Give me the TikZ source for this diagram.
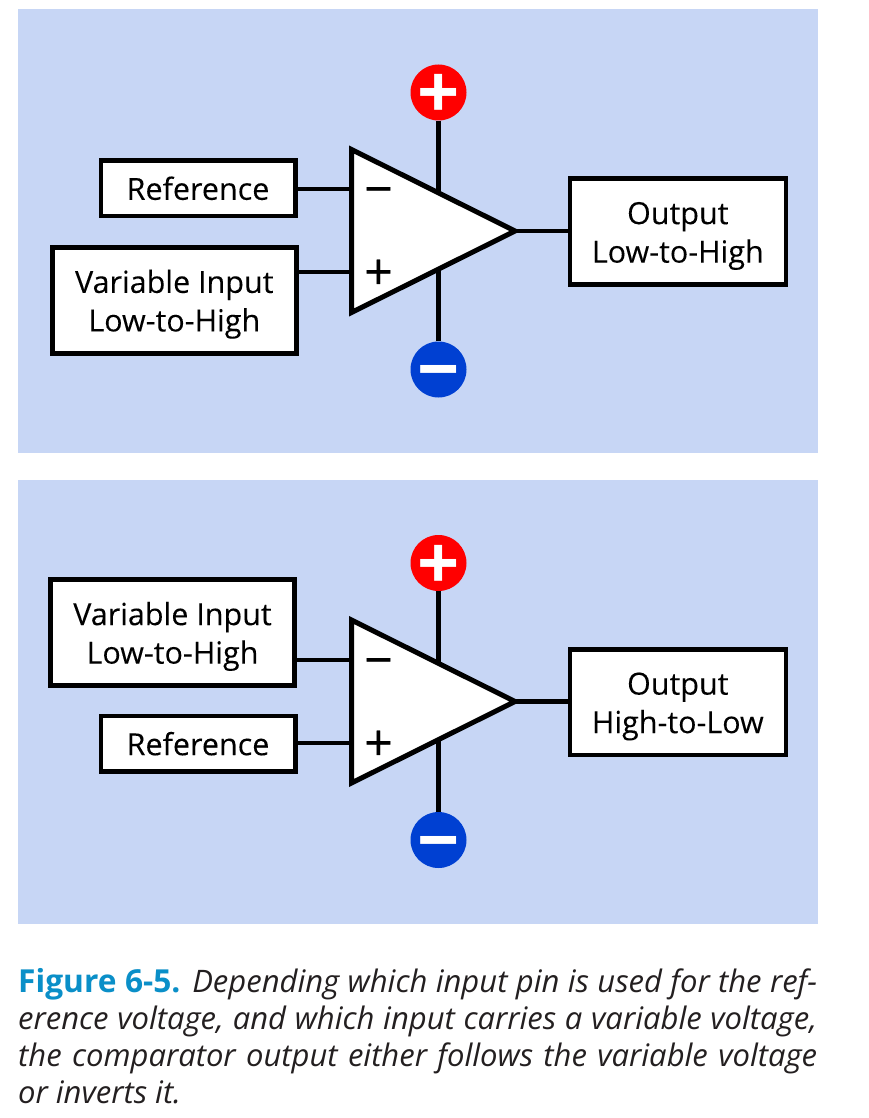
\documentclass[tikz,border=0pt]{standalone}
\usepackage{fontspec}
\setmainfont{Open Sans}
\definecolor{panel}{HTML}{C7D6F5}
\definecolor{vplus}{HTML}{FF0000}
\definecolor{vminus}{HTML}{0040D2}
\definecolor{capblue}{HTML}{0A8FC8}
\definecolor{ink}{HTML}{231F20}
\newcommand{\lift}{\rule{0pt}{31pt}}
\newcommand{\glyph}[1]{\smash{#1}}
\tikzset{
  x=1pt,y=-1pt,
  panelbox/.style={fill=panel,draw=none,minimum width=800pt,minimum height=444pt,inner sep=0pt},
  labelbox/.style={draw=black,line width=4.5pt,fill=white,align=center,inner sep=0pt,text=black,
    font=\fontsize{30.5}{38.5}\addfontfeature{FakeBold=0.1}\selectfont},
  wire/.style={draw=black,line width=4.5pt},
  amp/.style={draw=black,line width=5pt,fill=white,miter limit=10},
  rail/.style={circle,minimum size=56pt,inner sep=0pt,text=white},
  railglyph/.style={inner sep=0pt,text=white,yshift=-26pt,font=\fontsize{74}{74}\bfseries\selectfont},
  sign/.style={inner sep=0pt,text=black,yshift=-17.5pt,font=\fontsize{50}{50}\addfontfeature{FakeBold=0.3}\selectfont},
  capline/.style={anchor=base west,inner sep=0pt,text=ink,font=\fontsize{31}{37}\selectfont\itshape},
}
\newcommand{\capfill}[1]{\hbox to 799pt{#1}}
\begin{document}
\begin{tikzpicture}
\useasboundingbox (0,0) rectangle (868,1118);
\fill[white] (0,0) rectangle (868,1118);
\node[panelbox] (top) at (418,231) {};
\node[panelbox] (bot) at (418,701.5) {};
% upper circuit
\coordinate (a1) at (351.5,149.5);
\coordinate (a2) at (351.5,312.5);
\coordinate (a3) at (515,231);
\coordinate (a1in) at (351.5,189);
\coordinate (a2in) at (351.5,272);
\coordinate (a1p) at (438.5,195);
\coordinate (a1m) at (438.5,268);
\node[rail,fill=vplus] (avp) at (438.5,92.5) {};
\node[rail,fill=vminus] (avm) at (438.5,369.5) {};
\node[railglyph] (avpg) at (avp) {\glyph{+}};
\node[railglyph] (avmg) at (avm) {\glyph{−}};
\node[labelbox,minimum width=194.5pt,minimum height=55.5pt] (aref) at (198,188.3) {Reference};
\node[labelbox,minimum width=244pt,minimum height=106pt] (avar) at (174.3,300.3) {\lift Variable Input\\Low-to-High};
\node[labelbox,minimum width=216pt,minimum height=105.5pt] (aout) at (677.8,231.5) {\lift Output\\Low-to-High};
\draw[wire] (aref.east |- a1in) -- (a1in);
\draw[wire] (avar.east |- a2in) -- (a2in);
\draw[wire] (a3) -- (aout.west |- a3);
\draw[wire] (avp) -- (a1p);
\draw[wire] (avm) -- (a1m);
\draw[amp] (a1) -- (a3) -- (a2) -- cycle;
\node[sign] (amin) at (378.5,189) {\glyph{−}};
\node[sign] (apls) at (378.5,272) {\glyph{+}};
% lower circuit
\coordinate (b1) at (351.5,620);
\coordinate (b2) at (351.5,783);
\coordinate (b3) at (515,701.5);
\coordinate (b1in) at (351.5,660);
\coordinate (b2in) at (351.5,743);
\coordinate (b1p) at (438.5,666);
\coordinate (b1m) at (438.5,738);
\node[rail,fill=vplus] (bvp) at (438.5,563) {};
\node[rail,fill=vminus] (bvm) at (438.5,840) {};
\node[railglyph] (bvpg) at (bvp) {\glyph{+}};
\node[railglyph] (bvmg) at (bvm) {\glyph{−}};
\node[labelbox,minimum width=244pt,minimum height=106pt] (bvar) at (172.5,632.5) {\lift Variable Input\\Low-to-High};
\node[labelbox,minimum width=194.5pt,minimum height=55.5pt] (bref) at (198,743.7) {Reference};
\node[labelbox,minimum width=216pt,minimum height=105.5pt] (bout) at (677.8,702) {\lift Output\\High-to-Low};
\draw[wire] (bvar.east |- b1in) -- (b1in);
\draw[wire] (bref.east |- b2in) -- (b2in);
\draw[wire] (b3) -- (bout.west |- b3);
\draw[wire] (bvp) -- (b1p);
\draw[wire] (bvm) -- (b1m);
\draw[amp] (b1) -- (b3) -- (b2) -- cycle;
\node[sign] (bmin) at (378.5,660) {\glyph{−}};
\node[sign] (bpls) at (378.5,743) {\glyph{+}};
% caption
\node[capline] (c1) at (18,992) {\capfill{{\fontsize{31.7}{37}\selectfont\upshape\bfseries\color{capblue}Figure 6-5.} Depending which input pin is used for the ref-}};
\node[capline] (c2) at (18,1029) {\capfill{erence voltage, and which input carries a variable voltage,}};
\node[capline] (c3) at (18,1066) {\capfill{the comparator output either follows the variable voltage}};
\node[capline] (c4) at (18,1103) {or inverts it.};
\end{tikzpicture}
\end{document}
